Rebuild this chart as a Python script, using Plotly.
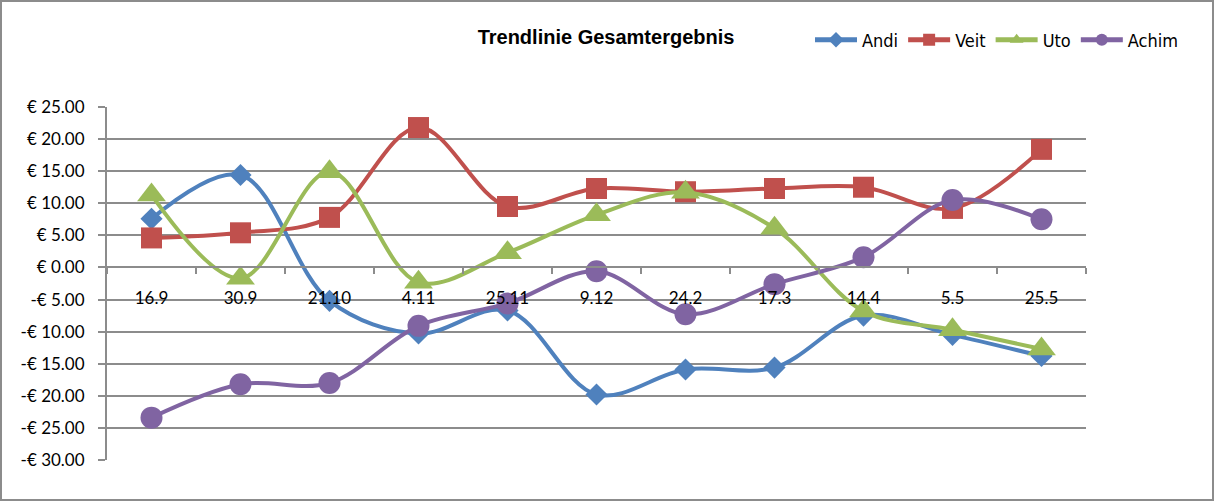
import plotly.graph_objects as go

categories = ["16.9", "30.9", "21.10", "4.11", "25.11", "9.12", "24.2", "17.3", "14.4", "5.5", "25.5"]
andi = [7.6, 14.4, -5.2, -10.3, -6.7, -19.8, -15.9, -15.6, -7.5, -10.5, -13.8]
veit = [4.6, 5.4, 7.8, 21.8, 9.5, 12.3, 11.8, 12.3, 12.5, 9.2, 18.4]
uto = [11.3, -1.7, 14.9, -2.3, 2.3, 8.2, 11.7, 6.1, -6.8, -9.7, -12.7]
achim = [-23.4, -18.2, -18.0, -9.1, -5.6, -0.6, -7.3, -2.6, 1.6, 10.5, 7.5]

y_ticks = [25, 20, 15, 10, 5, 0, -5, -10, -15, -20, -25, -30]
y_min, y_max = -30, 25


def euro(v):
    return ("-€ " if v < 0 else "€ ") + f"{abs(v):.2f}"


series = [
    ("Andi", andi, "#4F81BD", "diamond", 17),
    ("Veit", veit, "#C0504D", "square", 21),
    ("Uto", uto, "#9BBB59", "triangle-up", 25),
    ("Achim", achim, "#8064A2", "circle", 22),
]

fig = go.Figure()
for name, vals, color, sym, size in series:
    fig.add_trace(go.Scatter(
        x=categories, y=vals, name=name, mode="lines+markers",
        line=dict(color=color, width=4, shape="spline", smoothing=1.0),
        marker=dict(symbol=sym, size=size, color=color),
    ))

W, H = 1216, 504
L, R, T, B = 107, 130, 107, 44
pw, ph = W - L - R, H - T - B
grid = "#8c8c8c"
narrow = "Liberation Sans Narrow, Arial Narrow, DejaVu Sans Condensed, sans-serif"

fig.update_layout(
    width=W, height=H,
    margin=dict(l=L, r=R, t=T, b=B),
    paper_bgcolor="white", plot_bgcolor="white",
    font=dict(family="Lato, Liberation Sans, sans-serif", size=17, color="black"),
    title=dict(text="<b>Trendlinie Gesamtergebnis</b>", x=606 / W, xref="container", xanchor="center",
               y=1 - 37 / H, yref="container", yanchor="middle",
               font=dict(family="Liberation Sans, Arial, sans-serif", size=20, color="black")),
    showlegend=True,
    legend=dict(orientation="h", x=(810 - L) / pw, xanchor="left", y=(H - B - 40) / ph, yanchor="middle",
                font=dict(family=narrow, size=18),
                itemwidth=42, itemsizing="constant", traceorder="normal", bgcolor="rgba(0,0,0,0)"),
    xaxis=dict(
        type="category", categoryorder="array", categoryarray=categories,
        range=[-0.5, len(categories) - 0.5],
        anchor="free", position=(0 - y_min) / (y_max - y_min),
        showline=True, linecolor=grid, linewidth=2,
        ticks="outside", tickson="boundaries", ticklen=6, tickcolor=grid, tickwidth=2,
        showgrid=False, zeroline=False, ticklabelstandoff=15,
        tickfont=dict(size=17),
    ),
    yaxis=dict(
        range=[y_min, y_max], domain=[0, 1],
        tickvals=y_ticks, ticktext=[euro(v) for v in y_ticks],
        showgrid=True, gridcolor=grid, gridwidth=2, zeroline=False,
        showline=True, linecolor=grid, linewidth=2,
        ticks="outside", ticklen=7, tickcolor=grid, tickwidth=2, ticklabelstandoff=10,
        tickfont=dict(size=17),
    ),
    shapes=[dict(type="rect", xref="paper", yref="paper",
                 x0=(1 - L) / pw, x1=(1213 - L) / pw,
                 y0=(H - B - 500) / ph, y1=(H - B - 1) / ph,
                 line=dict(color="#8c8c8c", width=2), fillcolor="rgba(0,0,0,0)", layer="below")],
)

fig.write_html("out.html", config={"displayModeBar": False},
               post_script="document.body.style.margin='0';document.body.style.overflow='hidden';")
